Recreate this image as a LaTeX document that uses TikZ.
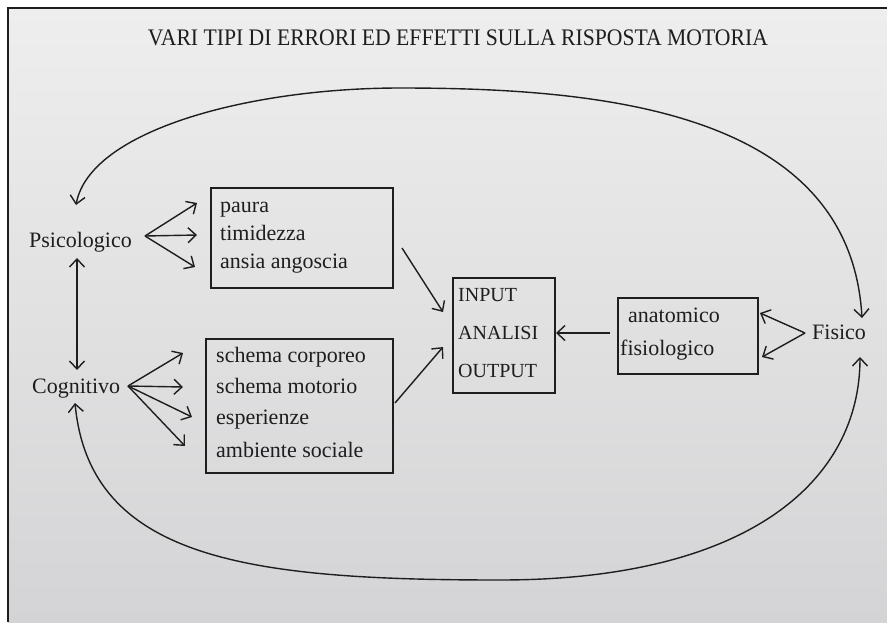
\documentclass[tikz,border=0pt]{standalone}
\usepackage{graphicx}
\usepackage{fontspec}
\setmainfont{Liberation Serif}
\usetikzlibrary{arrows.meta}
\definecolor{ink}{RGB}{30,30,30}
\definecolor{papertop}{RGB}{238,238,238}
\definecolor{paperbot}{RGB}{212,212,214}
\begin{document}
\begin{tikzpicture}[x=1pt,y=-1pt,
  lbl/.style={inner sep=0pt, anchor=base west, text=ink, font=\fontsize{22}{26}\selectfont},
  caps/.style={lbl, font=\fontsize{20}{24}\selectfont},
  boxed/.style={draw=ink, line width=1.8pt, inner sep=0pt, anchor=north west},
  arr/.style={draw=ink, line width=1.4pt, -{Straight Barb[length=8pt,width=15pt]}},
  darr/.style={draw=ink, line width=1.4pt, {Straight Barb[length=8pt,width=15pt]}-{Straight Barb[length=8pt,width=15pt]}}]
\useasboundingbox (0,0) rectangle (887,622);
\fill[white] (0,0) rectangle (887,622);
\shade[top color=papertop, bottom color=paperbot] (8,8) rectangle (887,622);
\draw[ink, line width=1.5pt] (8,622) -- (8,8) -- (887,8);

% title
\node[inner sep=0pt, anchor=base, text=ink] (title) at (458,45)
  {\resizebox{620pt}{15.7pt}{VARI TIPI DI ERRORI ED EFFETTI SULLA RISPOSTA MOTORIA}};

% main labels
\node[lbl] (psi) at (29,247) {Psicologico};
\node[lbl] (cog) at (32,393) {Cognitivo};
\node[lbl] (fis) at (812,339) {Fisico};

% boxes
\node[boxed, minimum width=182pt, minimum height=100pt] (pbox) at (210,187) {};
\node[boxed, minimum width=187pt, minimum height=134pt] (sbox) at (205,338) {};
\node[boxed, minimum width=102pt, minimum height=115pt] (ibox) at (452,277) {};
\node[boxed, minimum width=140pt, minimum height=76pt] (abox) at (617,297) {};

% box texts
\node[lbl] (t1) at (220,212) {paura};
\node[lbl] (t2) at (220,240) {timidezza};
\node[lbl] (t3) at (220,268) {ansia angoscia};
\node[lbl] (s1) at (216,362) {schema corporeo};
\node[lbl] (s2) at (216,393) {schema motorio};
\node[lbl] (s3) at (216,424) {esperienze};
\node[lbl] (s4) at (216,457) {ambiente sociale};
\node[caps] (i1) at (458,301) {INPUT};
\node[caps] (i2) at (458,339) {ANALISI};
\node[caps] (i3) at (458,377) {OUTPUT};
\node[lbl] (a1) at (628,322) {anatomico};
\node[lbl] (a2) at (620,355) {fisiologico};

% connector end points
\coordinate (psiA) at (145,236);
\coordinate (pT1) at (197,203);
\coordinate (pT2) at (197,235);
\coordinate (pT3) at (195,267);
\coordinate (cogA) at (128,386);
\coordinate (cT1) at (183,353);
\coordinate (cT2) at (183,387);
\coordinate (cT3) at (192,417);
\coordinate (cT4) at (185,446);
\coordinate (vTop) at (77,258);
\coordinate (vBot) at (77,370);
\coordinate (pOut) at (402,248);
\coordinate (iIn1) at (443,312);
\coordinate (sOut) at (395,403);
\coordinate (iIn2) at (443,347);
\coordinate (aOut) at (610,333);
\coordinate (iIn3) at (556,333);
\coordinate (fisA) at (805,333);
\coordinate (aIn1) at (760,313);
\coordinate (aIn2) at (762,357);
\coordinate (topL) at (76,205);
\coordinate (topR) at (862,318);
\coordinate (botL) at (75,403);
\coordinate (botR) at (860,357);

% connectors
\draw[arr] (psiA) -- (pT1);
\draw[arr] (psiA) -- (pT2);
\draw[arr] (psiA) -- (pT3);
\draw[arr] (cogA) -- (cT1);
\draw[arr] (cogA) -- (cT2);
\draw[arr] (cogA) -- (cT3);
\draw[arr] (cogA) -- (cT4);
\draw[darr] (vTop) -- (vBot);
\draw[arr] (pOut) -- (iIn1);
\draw[arr] (sOut) -- (iIn2);
\draw[arr] (aOut) -- (iIn3);
\draw[arr] (fisA) -- (aIn1);
\draw[arr] (fisA) -- (aIn2);
\draw[darr] (topL) .. controls (90,130) and (250,88) .. (400,88)
  .. controls (600,88) and (850,110) .. (topR);
\draw[darr] (botL) .. controls (90,560) and (250,580) .. (500,580)
  .. controls (750,580) and (860,480) .. (botR);
\end{tikzpicture}
\end{document}
